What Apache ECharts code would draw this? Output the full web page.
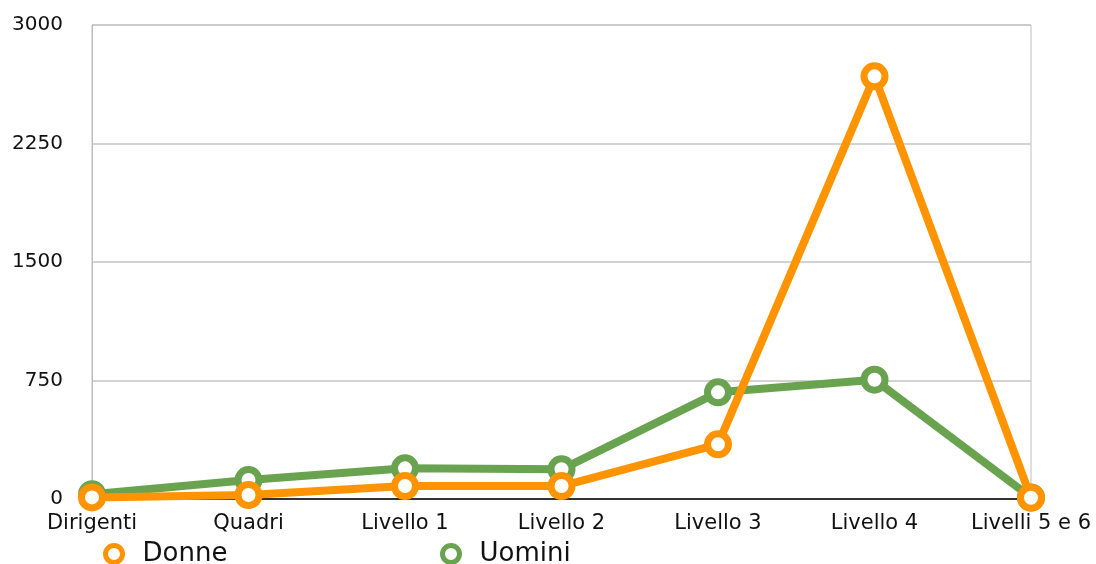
<!DOCTYPE html>
<html>
<head>
<meta charset="utf-8">
<script src="https://cdn.jsdelivr.net/npm/echarts@6/dist/echarts.min.js"></script>
<style>
  html, body { margin: 0; padding: 0; background: #fff; }
  #chart { width: 1096px; height: 564px; }
</style>
</head>
<body>
<div id="chart"></div>
<script>
// Personale per livello di inquadramento
const categories = ['Dirigenti', 'Quadri', 'Livello 1', 'Livello 2', 'Livello 3', 'Livello 4', 'Livelli 5 e 6'];
const donne = [10, 25, 82, 82, 346, 2675, 8];
const uomini = [30, 120, 194, 188, 675, 755, 10];
const yTicks = { min: 0, max: 3000, interval: 750 };

const ORANGE = '#ff9400';
const GREEN = '#6aa350';
const FONT = 'DejaVu Sans';

const chart = echarts.init(document.getElementById('chart'), null, { renderer: 'canvas' });

function lineSeries(name, data, color, z) {
  return {
    name: name,
    type: 'line',
    data: data,
    z: z,
    symbol: 'circle',
    symbolSize: 21,
    showAllSymbol: true,
    lineStyle: { color: color, width: 8 },
    itemStyle: { color: '#fff', borderColor: color, borderWidth: 7 },
    emphasis: { disabled: true },
    animation: false
  };
}

function legendFor(name, color, left) {
  return {
    data: [name],
    left: left,
    top: 541,
    padding: 0,
    itemWidth: 17,
    itemHeight: 17,
    icon: 'circle',
    itemStyle: { color: '#fff', borderColor: color, borderWidth: 5 },
    textStyle: { fontFamily: FONT, fontSize: 26, color: '#111', padding: [0, 0, 0, 15] },
    selectedMode: false
  };
}

chart.setOption({
  backgroundColor: '#fff',
  animation: false,
  grid: {
    left: 92, right: 65, top: 25, bottom: 65,
    show: true, borderColor: '#bdbdbd', borderWidth: 1
  },
  legend: [legendFor('Donne', ORANGE, 103), legendFor('Uomini', GREEN, 440)],
  xAxis: {
    type: 'category',
    data: categories,
    boundaryGap: false,
    axisLine: { lineStyle: { color: '#000', width: 1.5 } },
    axisTick: { show: false },
    axisLabel: { fontFamily: FONT, fontSize: 21, color: '#111', margin: 14 },
    splitLine: { show: false }
  },
  yAxis: {
    type: 'value',
    min: yTicks.min,
    max: yTicks.max,
    interval: yTicks.interval,
    axisLine: { show: true, lineStyle: { color: '#bdbdbd' } },
    axisTick: { show: false },
    axisLabel: {
      fontFamily: FONT, fontSize: 20, color: '#111', margin: 29,
      formatter: (v) => String(v)
    },
    splitLine: { lineStyle: { color: '#c4c4c4', width: 1.5 } }
  },
  series: [
    lineSeries('Uomini', uomini, GREEN, 2),
    lineSeries('Donne', donne, ORANGE, 3)
  ]
});
</script>
</body>
</html>
